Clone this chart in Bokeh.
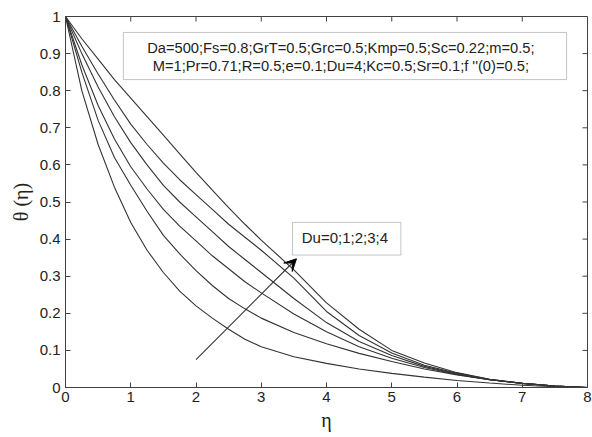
import math
from bokeh.plotting import figure
from bokeh.models import BoxAnnotation, Label, Arrow, VeeHead, FixedTicker, Range1d
from bokeh.embed import file_html
from bokeh.resources import INLINE

eta = [0, 0.25, 0.5, 0.75, 1, 1.25, 1.5, 1.75, 2, 2.25, 2.5, 2.75, 3,
       3.5, 4, 4.5, 5, 5.5, 6, 6.5, 7, 7.5, 8]
theta_c1 = [1, 0.80, 0.655, 0.54, 0.445, 0.37, 0.31, 0.26, 0.22, 0.187, 0.157, 0.13, 0.11,
            0.083, 0.065, 0.05, 0.038, 0.028, 0.019, 0.012, 0.006, 0.002, 0]
theta_c2 = [1, 0.85, 0.72, 0.62, 0.545, 0.475, 0.41, 0.36, 0.315, 0.275, 0.24, 0.212, 0.187,
            0.148, 0.118, 0.092, 0.07, 0.05, 0.034, 0.021, 0.011, 0.004, 0]
theta_c3 = [1, 0.87, 0.76, 0.67, 0.595, 0.535, 0.48, 0.435, 0.395, 0.355, 0.32, 0.285, 0.255,
            0.198, 0.15, 0.11, 0.079, 0.054, 0.035, 0.021, 0.011, 0.004, 0]
theta_c4 = [1, 0.90, 0.81, 0.73, 0.66, 0.60, 0.545, 0.50, 0.46, 0.42, 0.38, 0.345, 0.31,
            0.24, 0.175, 0.124, 0.086, 0.057, 0.036, 0.021, 0.011, 0.004, 0]
theta_c5 = [1, 0.92, 0.845, 0.775, 0.71, 0.655, 0.605, 0.56, 0.52, 0.48, 0.44, 0.405, 0.37,
            0.295, 0.205, 0.14, 0.093, 0.06, 0.038, 0.022, 0.011, 0.004, 0]
theta_c6 = [1, 0.94, 0.885, 0.83, 0.78, 0.73, 0.68, 0.63, 0.58, 0.532, 0.485, 0.44, 0.397,
            0.317, 0.228, 0.157, 0.10, 0.066, 0.04, 0.022, 0.011, 0.004, 0]
series = [theta_c1, theta_c2, theta_c3, theta_c4, theta_c5, theta_c6]

x_ticks = [0, 1, 2, 3, 4, 5, 6, 7, 8]
y_ticks = [0, 0.1, 0.2, 0.3, 0.4, 0.5, 0.6, 0.7, 0.8, 0.9, 1]
param_line1 = "Da=500;Fs=0.8;GrT=0.5;Grc=0.5;Kmp=0.5;Sc=0.22;m=0.5;"
param_line2 = "M=1;Pr=0.71;R=0.5;e=0.1;Du=4;Kc=0.5;Sr=0.1;f ''(0)=0.5;"
du_label = "Du=0;1;2;3;4"

FONT = "Liberation Sans"
AX = "#404040"
TXT = "#222222"

p = figure(width=592, height=437, output_backend="svg", toolbar_location=None,
           x_range=Range1d(0, 8), y_range=Range1d(0, 1),
           min_border_left=65, min_border_right=5, min_border_top=16, min_border_bottom=50)
p.grid.visible = False
p.outline_line_color = AX
p.outline_line_width = 1

for s in series:
    p.line(eta, s, line_color="#333333", line_width=1.1)

for ax in p.xaxis + p.yaxis:
    ax.major_tick_in = 5
    ax.major_tick_out = 0
    ax.minor_tick_in = 0
    ax.minor_tick_out = 0
    ax.axis_line_color = AX
    ax.major_tick_line_color = AX
    ax.major_label_text_font = FONT
    ax.major_label_text_font_size = "15px"
    ax.major_label_text_color = TXT
    ax.axis_label_text_font = "Liberation Serif"
    ax.axis_label_text_font_style = "normal"
    ax.axis_label_text_font_size = "20px"
    ax.axis_label_text_color = TXT

p.xaxis.ticker = FixedTicker(ticks=x_ticks)
p.yaxis.ticker = FixedTicker(ticks=y_ticks)
p.yaxis.major_label_overrides = {0: "0", 1: "1"}
p.xaxis.axis_label = "η"
p.yaxis.axis_label = "θ (η)"
p.xaxis.major_label_standoff = 4
p.yaxis.major_label_standoff = 5
p.xaxis.axis_label_standoff = 4
p.yaxis.axis_label_standoff = 5

# inward ticks on the top and right edges of the box
p.ray(x=x_ticks, y=[y_ticks[-1]] * len(x_ticks), length=5, length_units="screen",
      angle=-math.pi / 2, line_color=AX, line_width=1)
p.ray(x=[x_ticks[-1]] * len(y_ticks), y=y_ticks, length=5, length_units="screen",
      angle=math.pi, line_color=AX, line_width=1)

p.add_layout(BoxAnnotation(left=0.887, right=7.68, bottom=0.83, top=0.957,
                           fill_color="white", fill_alpha=1, line_color=AX, line_width=1))
p.add_layout(Label(x=4.22, y=0.915, text=param_line1, text_align="center", text_baseline="middle",
                   text_font=FONT, text_font_size="14.7px", text_color=TXT))
p.add_layout(Label(x=4.22, y=0.866, text=param_line2, text_align="center", text_baseline="middle",
                   text_font=FONT, text_font_size="14.7px", text_color=TXT))

p.add_layout(BoxAnnotation(left=3.48, right=5.14, bottom=0.357, top=0.445,
                           fill_color="white", fill_alpha=1, line_color=AX, line_width=1))
p.add_layout(Label(x=3.62, y=0.405, text=du_label, text_align="left", text_baseline="middle",
                   text_font=FONT, text_font_size="15px", text_color=TXT))

p.add_layout(Arrow(x_start=2.0, y_start=0.075, x_end=3.54, y_end=0.347, line_color="#333333",
                   line_width=1.1, end=VeeHead(size=12, fill_color="black", line_color="black")))

open("out.html", "w").write(file_html(p, INLINE))
